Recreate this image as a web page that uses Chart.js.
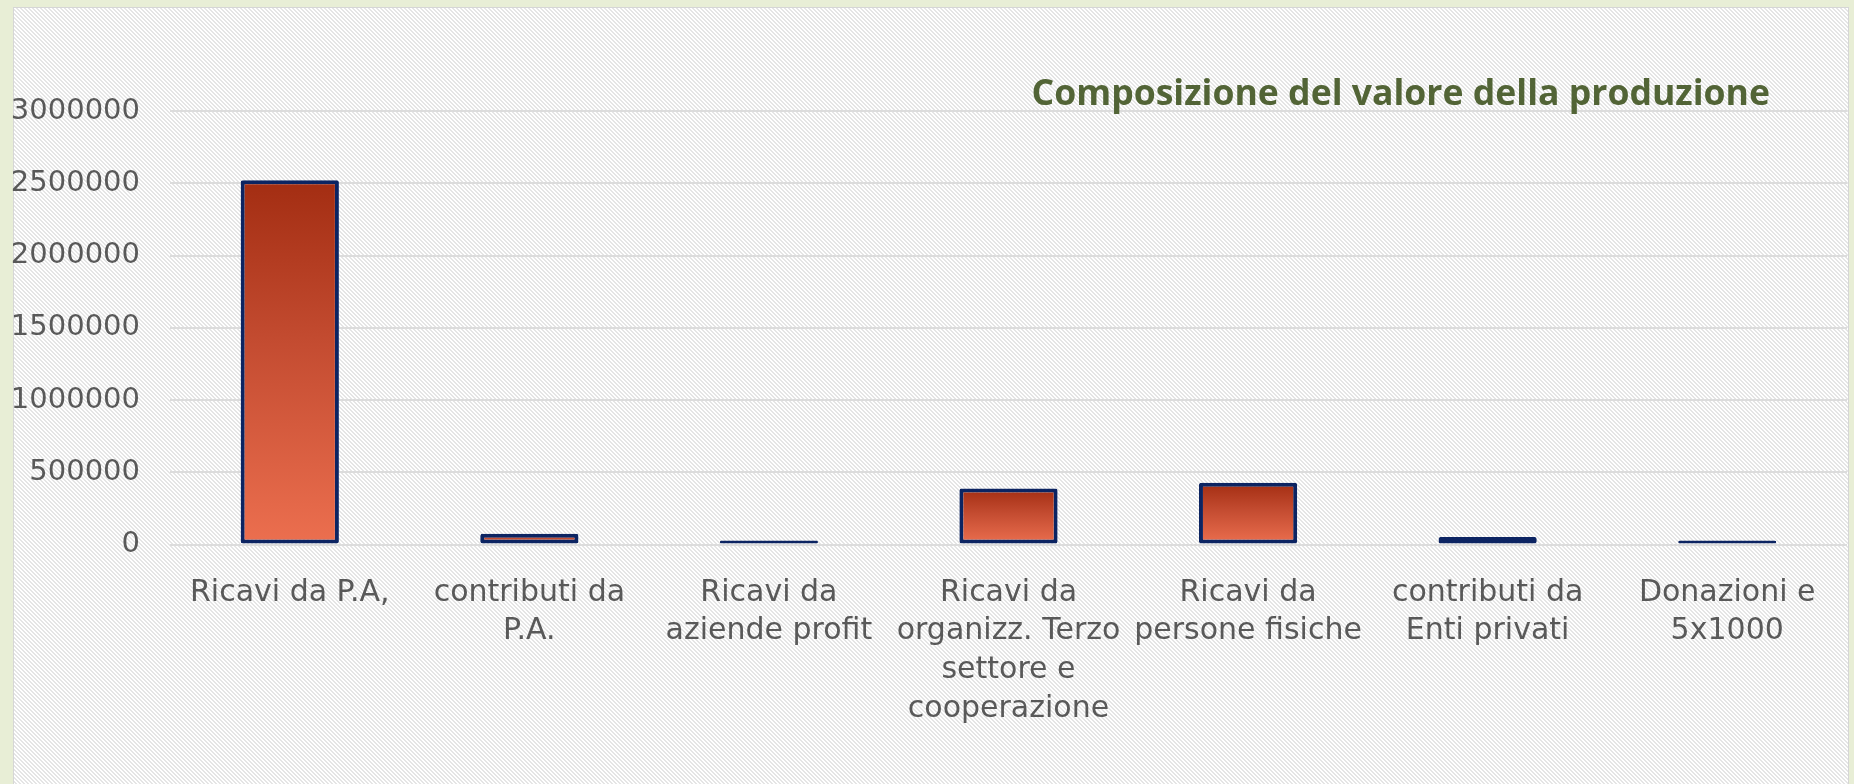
<!DOCTYPE html>
<html>
<head>
<meta charset="utf-8">
<script src="https://cdn.jsdelivr.net/npm/chart.js@4"></script>
<style>
  body { margin: 0; background: #e8eed6; }
  canvas { display: block; }
</style>
</head>
<body>
<canvas id="chart" width="1854" height="784"></canvas>
<script>
// data
const categories = [
  ['Ricavi da P.A,'],
  ['contributi da', 'P.A.'],
  ['Ricavi da', 'aziende profit'],
  ['Ricavi da', 'organizz. Terzo', 'settore e', 'cooperazione'],
  ['Ricavi da', 'persone fisiche'],
  ['contributi da', 'Enti privati'],
  ['Donazioni e', '5x1000'],
];
const values = [2520000, 75000, 0, 388000, 428000, 52000, 0];
const yMax = 3000000;
const yStep = 500000;
const chartTitle = 'Composizione del valore della produzione';

const labelFont = '"DejaVu Sans", sans-serif';

// hatched panel background
function makeHatch(ctx) {
  const n = 4;
  const tile = document.createElement('canvas');
  tile.width = n;
  tile.height = n;
  const tctx = tile.getContext('2d');
  const img = tctx.createImageData(n, n);
  for (let y = 0; y < n; y++) {
    for (let x = 0; x < n; x++) {
      const i = (y * n + x) * 4;
      const on = ((x - y + 2 * n) % n) < 2;
      const c = on ? 229 : 255;
      img.data[i] = c; img.data[i + 1] = c; img.data[i + 2] = c; img.data[i + 3] = 255;
    }
  }
  tctx.putImageData(img, 0, 0);
  return ctx.createPattern(tile, 'repeat');
}

const backgroundPlugin = {
  id: 'panel',
  beforeDraw(chart) {
    const ctx = chart.ctx;
    ctx.save();
    ctx.fillStyle = '#e8eed6';
    ctx.fillRect(0, 0, chart.width, chart.height);
    ctx.fillStyle = makeHatch(ctx);
    ctx.fillRect(13, 7, 1835, 800);
    ctx.strokeStyle = '#d6d6d6';
    ctx.lineWidth = 1;
    ctx.strokeRect(13.5, 7.5, 1835, 800);
    ctx.restore();
  },
  afterDraw(chart) {
    const ctx = chart.ctx;
    ctx.save();
    // fit the title to the width it takes in the picture
    ctx.font = 'bold 32px "Open Sans", sans-serif';
    const w = ctx.measureText(chartTitle).width;
    const size = Math.round(32 * 738 / w * 10) / 10;
    ctx.font = 'bold ' + size + 'px "Open Sans", sans-serif';
    ctx.fillStyle = '#526436';
    ctx.textAlign = 'right';
    ctx.textBaseline = 'alphabetic';
    ctx.fillText(chartTitle, 1770, 105);
    ctx.restore();
  }
};

function barFill(context) {
  const chart = context.chart;
  if (!chart.chartArea || context.type !== 'data') return '#d05a3c';
  const y = chart.scales.y;
  const top = y.getPixelForValue(context.raw);
  const bottom = y.getPixelForValue(0);
  if (bottom - top < 4) return '#c4512f';
  const g = chart.ctx.createLinearGradient(0, top, 0, bottom);
  g.addColorStop(0, '#a32d12');
  g.addColorStop(0.45, '#c44c31');
  g.addColorStop(1, '#ec6f4f');
  return g;
}

new Chart(document.getElementById('chart'), {
  type: 'bar',
  data: {
    labels: categories,
    datasets: [{
      data: values,
      backgroundColor: barFill,
      borderColor: '#0c2462',
      borderWidth: 4,
      borderSkipped: false,
      borderRadius: 2,
      minBarLength: 4,
      barPercentage: 0.41,
      categoryPercentage: 1,
    }]
  },
  options: {
    responsive: false,
    animation: false,
    devicePixelRatio: 1,
    layout: { padding: { top: 111, right: 7, left: 0, bottom: 0 } },
    plugins: {
      legend: { display: false },
      tooltip: { enabled: false },
    },
    scales: {
      x: {
        grid: { display: false },
        border: { display: false },
        ticks: {
          color: '#595959',
          font: { family: labelFont, size: 30, lineHeight: 1.29 },
          padding: 21,
          maxRotation: 0,
          autoSkip: false,
        },
        afterFit(scale) { scale.height = 239.5; },
      },
      y: {
        min: 0,
        max: yMax,
        grid: { color: '#dcdcdc', lineWidth: 2, drawTicks: false },
        border: { display: false },
        ticks: {
          stepSize: yStep,
          color: '#595959',
          font: { family: labelFont, size: 29 },
          padding: 30,
          callback: v => String(v),
        },
        afterFit(scale) { scale.width = 170; },
      }
    }
  },
  plugins: [backgroundPlugin]
});
</script>
</body>
</html>
